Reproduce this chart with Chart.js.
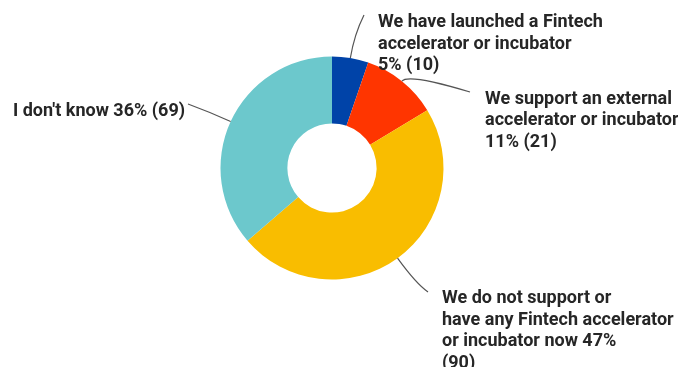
<!DOCTYPE html>
<html>
<head>
<meta charset="utf-8">
<script src="https://cdn.jsdelivr.net/npm/chart.js@4.4.1/dist/chart.umd.min.js"></script>
<style>
    html, body { margin: 0; padding: 0; background: #fff; }
    #chart { display: block; }
</style>
</head>
<body>
<canvas id="chart" width="678" height="367"></canvas>
<script>
// answers, clockwise from the top; {pct} and {n} get filled in from the counts
var categories = [
    ["We have launched a Fintech", "accelerator or incubator", "{pct} ({n})"],
    ["We support an external", "accelerator or incubator", "{pct} ({n})"],
    ["We do not support or", "have any Fintech accelerator", "or incubator now {pct}", "({n})"],
    ["I don't know {pct} ({n})"]
];
var responses = [10, 21, 90, 69];
var sliceColors = ["#0043a8", "#ff3500", "#f9bd00", "#6cc8cc"];

// leader lines + multi-line labels next to each slice
var callouts = {
    id: 'callouts',
    afterDatasetsDraw: function(chart, args, opts) {
        var ctx = chart.ctx;
        var meta = chart.getDatasetMeta(0);
        var data = chart.data.datasets[0].data;
        var total = data.reduce(function(a, b) { return a + b; }, 0);

        ctx.save();
        ctx.font = opts.font;
        ctx.textBaseline = 'alphabetic';
        ctx.textAlign = 'left';

        meta.data.forEach(function(arc, i) {
            var p = arc.getProps(['x', 'y', 'startAngle', 'endAngle', 'outerRadius'], true);
            var mid = (p.startAngle + p.endAngle) / 2;
            var cos = Math.cos(mid), sin = Math.sin(mid);
            var sx = p.x + cos * p.outerRadius;
            var sy = p.y + sin * p.outerRadius;
            var kx = p.x + cos * (p.outerRadius + opts.bend[i]);
            var ky = p.y + sin * (p.outerRadius + opts.bend[i]);
            var end = opts.lineEnd[i];

            ctx.beginPath();
            ctx.strokeStyle = opts.lineColor;
            ctx.lineWidth = 1.2;
            ctx.moveTo(sx, sy);
            ctx.quadraticCurveTo(kx, ky, end[0], end[1]);
            ctx.stroke();

            var pct = Math.round(data[i] / total * 100) + '%';
            var pos = opts.textPos[i];
            ctx.fillStyle = opts.textColor;
            chart.data.labels[i].forEach(function(line, k) {
                var txt = line.replace('{pct}', pct).replace('{n}', data[i]);
                ctx.fillText(txt, pos[0], pos[1] + k * opts.lineHeight);
            });
        });
        ctx.restore();
    }
};

var ctx = document.getElementById('chart').getContext('2d');
var myChart = new Chart(ctx, {
    type: 'doughnut',
    data: {
        labels: categories,
        datasets: [{
            data: responses,
            backgroundColor: sliceColors,
            borderWidth: 0,
            hoverOffset: 0
        }]
    },
    options: {
        responsive: false,
        devicePixelRatio: 1,
        animation: false,
        cutout: '40%',
        layout: {
            padding: { left: 220.5, right: 234.5, top: 56.5, bottom: 87.5 }
        },
        plugins: {
            legend: { display: false },
            tooltip: { enabled: false },
            callouts: {
                font: 'bold 18px Roboto',
                textColor: '#262626',
                lineColor: '#555',
                lineHeight: 21.5,
                textPos: [[378, 27], [485, 103.5], [442, 303], [13, 115.5]],
                lineEnd: [[364, 15], [470, 92], [428, 292], [188, 104]],
                bend: [24, 10, 32, 22]
            }
        }
    },
    plugins: [callouts]
});
</script>
</body>
</html>
